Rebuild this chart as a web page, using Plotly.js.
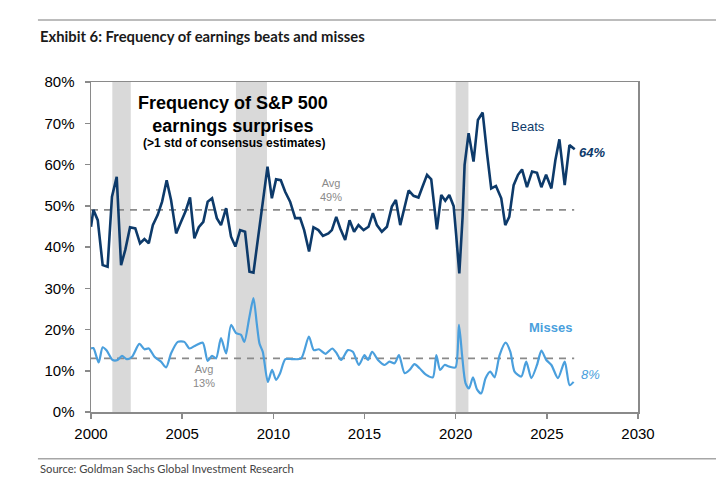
<!DOCTYPE html>
<html>
<head>
<meta charset="utf-8">
<script src="https://cdn.plot.ly/plotly-3.0.1.min.js"></script>
<style>
  html, body { margin: 0; padding: 0; background: #fff; }
  #chart { width: 716px; height: 486px; }
</style>
</head>
<body>
<div id="chart"></div>
<script>
// beats: share of S&P 500 companies beating by >1 std
const beatYears = [2000.0, 2000.13, 2000.37, 2000.64, 2000.91, 2001.15, 2001.41, 2001.65, 2001.88, 2002.14,
  2002.43, 2002.69, 2002.93, 2003.17, 2003.39, 2003.66, 2003.9, 2004.15, 2004.39, 2004.67,
  2004.94, 2005.18, 2005.43, 2005.67, 2005.91, 2006.16, 2006.4, 2006.64, 2006.9, 2007.13,
  2007.41, 2007.68, 2007.92, 2008.18, 2008.45, 2008.69, 2008.91, 2009.18, 2009.46, 2009.68,
  2009.92, 2010.15, 2010.41, 2010.65, 2010.92, 2011.2, 2011.47, 2011.69, 2011.96, 2012.2,
  2012.47, 2012.72, 2013.02, 2013.21, 2013.45, 2013.67, 2013.94, 2014.18, 2014.43, 2014.67,
  2014.95, 2015.22, 2015.46, 2015.68, 2015.95, 2016.23, 2016.5, 2016.72, 2016.96, 2017.2,
  2017.42, 2017.69, 2017.96, 2018.18, 2018.43, 2018.66, 2018.84, 2018.97, 2019.21, 2019.43,
  2019.65, 2019.89, 2020.02, 2020.2, 2020.38, 2020.49, 2020.71, 2020.98, 2021.22, 2021.48,
  2021.72, 2021.95, 2022.21, 2022.5, 2022.72, 2022.94, 2023.18, 2023.42, 2023.64, 2023.91,
  2024.19, 2024.46, 2024.7, 2024.96, 2025.25, 2025.47, 2025.69, 2025.98, 2026.24, 2026.38, 2026.53];
const beats = [44.9, 49.0, 46.5, 35.6, 35.2, 52.2, 57.0, 35.6, 39.3, 44.8,
  44.5, 40.9, 41.9, 40.9, 45.3, 47.8, 51.0, 56.2, 51.4, 43.3,
  46.1, 48.6, 52.0, 42.1, 44.8, 46.1, 51.0, 51.8, 47.0, 45.3,
  49.4, 42.5, 40.1, 44.1, 43.7, 34.0, 33.8, 43.3, 51.8, 59.5,
  51.8, 56.4, 56.2, 53.4, 51.0, 47.0, 47.0, 44.1, 38.9, 44.8,
  44.1, 42.7, 43.3, 44.1, 47.3, 44.5, 41.7, 46.5, 43.7, 45.3,
  44.1, 44.9, 48.2, 45.3, 43.7, 44.9, 49.8, 51.4, 45.3, 49.8,
  53.7, 52.4, 52.0, 54.6, 57.5, 56.4, 49.8, 44.3, 52.6, 51.2,
  52.6, 49.9, 43.3, 33.6, 47.3, 59.9, 67.6, 60.7, 70.8, 72.6,
  62.7, 54.2, 54.8, 51.8, 45.3, 47.3, 55.0, 57.5, 58.8, 54.5,
  58.3, 58.0, 54.5, 57.5, 54.2, 61.1, 66.1, 55.0, 64.7, 64.3, 63.7];

// misses: share of S&P 500 companies missing by >1 std
const missYears = [2000.0, 2000.13, 2000.42, 2000.64, 2000.86, 2001.19, 2001.46, 2001.7, 2001.96, 2002.25,
  2002.65, 2002.93, 2003.17, 2003.48, 2003.84, 2004.12, 2004.39, 2004.76, 2005.12, 2005.4,
  2005.76, 2006.13, 2006.4, 2006.64, 2006.86, 2007.13, 2007.41, 2007.68, 2007.96, 2008.23,
  2008.41, 2008.69, 2008.91, 2009.09, 2009.24, 2009.42, 2009.7, 2009.93, 2010.15, 2010.37,
  2010.66, 2011.07, 2011.53, 2011.95, 2012.22, 2012.5, 2012.86, 2013.23, 2013.45, 2013.72,
  2014.09, 2014.36, 2014.69, 2015.0, 2015.19, 2015.42, 2015.74, 2016.1, 2016.37, 2016.65,
  2016.89, 2017.2, 2017.47, 2017.74, 2018.02, 2018.39, 2018.75, 2018.94, 2019.15, 2019.39,
  2019.66, 2019.99, 2020.18, 2020.36, 2020.54, 2020.73, 2020.95, 2021.17, 2021.4, 2021.64,
  2021.9, 2022.13, 2022.41, 2022.74, 2023.0, 2023.23, 2023.6, 2023.87, 2024.15, 2024.46,
  2024.7, 2024.97, 2025.25, 2025.61, 2025.98, 2026.25, 2026.47];
const misses = [15.4, 15.5, 12.0, 15.7, 14.9, 12.6, 12.6, 13.6, 12.8, 13.4,
  16.5, 15.2, 15.4, 13.4, 12.2, 10.8, 14.2, 17.0, 17.0, 15.4,
  16.2, 16.8, 12.4, 13.6, 13.0, 17.9, 14.2, 21.1, 19.1, 18.7,
  17.0, 23.1, 27.6, 21.5, 16.6, 14.6, 7.3, 10.2, 7.8, 9.4,
  12.8, 12.8, 13.0, 18.3, 15.0, 15.2, 14.1, 15.4, 14.4, 12.6,
  15.0, 14.6, 11.4, 13.8, 12.6, 14.6, 12.6, 11.4, 12.2, 11.8,
  13.8, 9.4, 10.2, 11.6, 10.6, 9.0, 8.4, 13.8, 10.2, 11.4,
  11.0, 10.8, 21.1, 13.4, 7.0, 5.7, 8.4, 5.5, 4.5, 8.2,
  9.8, 8.4, 13.8, 16.8, 14.6, 9.8, 8.6, 12.2, 8.2, 11.4,
  14.9, 12.6, 11.4, 8.2, 12.2, 6.5, 7.3];

const beatsAvg = 49;
const missesAvg = 13;
const avgEnd = [2000, 2026.5];

// recessions (start, end)
const recessions = [[2001.17, 2002.18], [2007.95, 2009.65], [2020.0, 2020.7]];

const navy = '#0d3a6a';
const lightBlue = '#4a9fdd';
const grey = '#8a8a8a';

const data = [
  {x: avgEnd, y: [beatsAvg, beatsAvg], mode: 'lines', line: {color: grey, width: 1.6, dash: '7px,6px'}, hoverinfo: 'skip'},
  {x: avgEnd, y: [missesAvg, missesAvg], mode: 'lines', line: {color: grey, width: 1.6, dash: '7px,6px'}, hoverinfo: 'skip'},
  {x: missYears, y: misses, mode: 'lines', line: {color: lightBlue, width: 2.2, shape: 'spline', smoothing: 0.7}},
  {x: beatYears, y: beats, mode: 'lines', line: {color: navy, width: 2.6}}
];

const shapes = recessions.map(r => ({
  type: 'rect', xref: 'x', yref: 'y', x0: r[0], x1: r[1], y0: 0, y1: 80,
  fillcolor: '#d9d9d9', line: {width: 0}, layer: 'below'
}));
// page rules above and below
shapes.push({type: 'line', xref: 'paper', yref: 'paper', x0: -0.097, x1: 1.2, y0: 1.188, y1: 1.188, line: {color: '#a6a6a6', width: 1.5}});
shapes.push({type: 'line', xref: 'paper', yref: 'paper', x0: -0.097, x1: 1.2, y0: -0.142, y1: -0.142, line: {color: '#a6a6a6', width: 1.5}});

const ann = (x, y, text, size, color, extra) => Object.assign({
  x: x, y: y, xref: 'x', yref: 'y', text: text, showarrow: false,
  font: {family: 'Liberation Sans, Arial, sans-serif', size: size, color: color}
}, extra || {});

const annotations = [
  ann(2007.8, 72.2, '<b>Frequency of S&P 500<br>earnings surprises</b>', 18, '#000'),
  ann(2007.85, 65.2, '<b>(>1 std of consensus estimates)</b>', 12, '#000'),
  ann(2013.17, 53.8, 'Avg<br>49%', 11, grey),
  ann(2006.2, 8.7, 'Avg<br>13%', 11, grey),
  ann(2023.97, 69.1, 'Beats', 13, navy),
  ann(2027.48, 63.0, '<b><i>64%</i></b>', 13, navy),
  ann(2025.18, 20.6, '<b>Misses</b>', 13, lightBlue),
  ann(2027.37, 9.2, '<i>8%</i>', 13, lightBlue),
  {xref: 'paper', yref: 'paper', x: -0.097, y: 1.14, xanchor: 'left', yanchor: 'middle', showarrow: false,
   text: '<b>Exhibit 6: Frequency of earnings beats and misses</b>', font: {family: 'Lato, sans-serif', size: 14.8, color: '#1a1a1a'}},
  {xref: 'paper', yref: 'paper', x: -0.097, y: -0.172, xanchor: 'left', yanchor: 'middle', showarrow: false,
   text: 'Source: Goldman Sachs Global Investment Research', font: {family: 'Lato, sans-serif', size: 11.2, color: '#444'}}
];

const axisCommon = {
  showline: true, mirror: true, linecolor: grey, linewidth: 1.5,
  ticks: 'outside', ticklen: 5, tickcolor: grey, tickwidth: 1.5,
  showgrid: false, zeroline: false,
  tickfont: {family: 'Liberation Sans, Arial, sans-serif', size: 15, color: '#000'}
};

const layout = {
  width: 716, height: 486,
  margin: {l: 91, r: 78, t: 82, b: 74},
  paper_bgcolor: '#fff', plot_bgcolor: '#fff',
  showlegend: false,
  xaxis: Object.assign({}, axisCommon, {range: [2000, 2030], dtick: 5, tick0: 2000, ticklabelstandoff: 2}),
  yaxis: Object.assign({}, axisCommon, {range: [0, 80], dtick: 10, ticksuffix: '%', ticklabelstandoff: 7}),
  shapes: shapes,
  annotations: annotations
};

Plotly.newPlot('chart', data, layout, {staticPlot: true});
</script>
</body>
</html>
